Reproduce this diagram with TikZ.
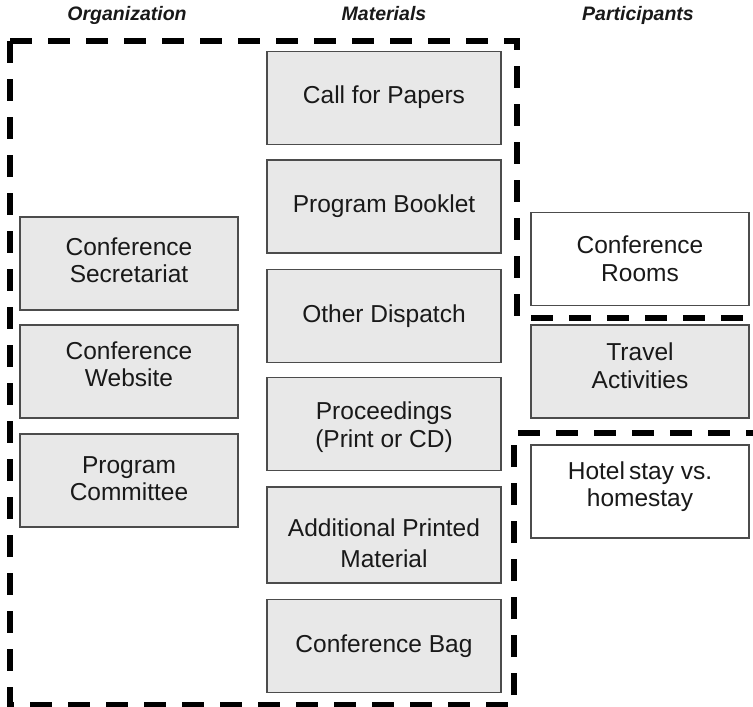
\documentclass[tikz,border=0pt]{standalone}
\usepackage{fontspec}
\setmainfont{Liberation Sans}
\begin{document}
\begin{tikzpicture}[x=1pt,y=-1pt,
  box/.style={draw=black!70, line width=1.1pt, fill=black!9, inner sep=0pt},
  lbox/.style={box, minimum width=218pt, minimum height=93pt},
  mbox/.style={box, minimum width=234pt, minimum height=93pt},
  rbox/.style={lbox},
  rwbox/.style={lbox, fill=white},
  txt/.style={align=center, font=\fontsize{24.5}{27.5}\selectfont, text=black!90, inner sep=0pt},
  hdr/.style={font=\fontsize{19.5}{22}\selectfont\bfseries\itshape, text=black!90, anchor=base},
  region/.style={line width=5.5pt, dash pattern=on 22pt off 16pt}
]
\useasboundingbox (0,0) rectangle (753,707);
% headers
\node[hdr] (h1) at (127,20) {Organization};
\node[hdr] (h2) at (384,20) {Materials};
\node[hdr] (h3) at (638,20) {Participants};
% middle column
\node[mbox] (m1) at (384,98) {};
\node[mbox] (m2) at (384,206.5) {};
\node[mbox] (m3) at (384,316) {};
\node[mbox] (m4) at (384,424) {};
\node[mbox, minimum height=96pt] (m5) at (384,535) {};
\node[mbox] (m6) at (384,646) {};
\node[txt] (m1t) at ([yshift=1pt]m1.center) {Call for Papers};
\node[txt] (m2t) at (m2.center) {Program Booklet};
\node[txt] (m3t) at (m3.center) {Other Dispatch};
\node[txt] (m4t) at ([yshift=-3pt]m4.center) {Proceedings\\(Print or CD)};
\node[txt, font=\fontsize{24.5}{31}\selectfont] (m5t) at ([yshift=-8pt]m5.center) {Additional Printed\\Material};
\node[txt] (m6t) at (m6.center) {Conference Bag};
% left column
\node[lbox] (l1) at (129,263.5) {};
\node[lbox] (l2) at (129,371.5) {};
\node[lbox] (l3) at (129,480.5) {};
\node[txt] (l1t) at ([yshift=3pt]l1.center) {Conference\\Secretariat};
\node[txt] (l2t) at ([yshift=7pt]l2.center) {Conference\\Website};
\node[txt] (l3t) at ([yshift=2pt]l3.center) {Program\\Committee};
% right column
\node[rwbox] (r1) at (640,259) {};
\node[rbox] (r2) at (640,371.5) {};
\node[rwbox] (r3) at (640,491.5) {};
\node[txt] (r1t) at (r1.center) {Conference\\Rooms};
\node[txt] (r2t) at ([yshift=6pt]r2.center) {Travel\\Activities};
\node[txt] (r3t) at ([yshift=5pt]r3.center) {Hotel\,stay vs.\\homestay};
% dashed region outline
\coordinate (a) at (753,318);
\coordinate (b) at (517,318);
\coordinate (c) at (517,41);
\coordinate (d) at (10,41);
\coordinate (e) at (10,705);
\coordinate (f) at (514,705);
\coordinate (g) at (514,433);
\coordinate (k) at (753,433);
\draw[region] (d) -- (e) -- (f) -- (g) -- (k);
\draw[region] (d) -- (c) -- (b) -- (a);
\end{tikzpicture}
\end{document}
